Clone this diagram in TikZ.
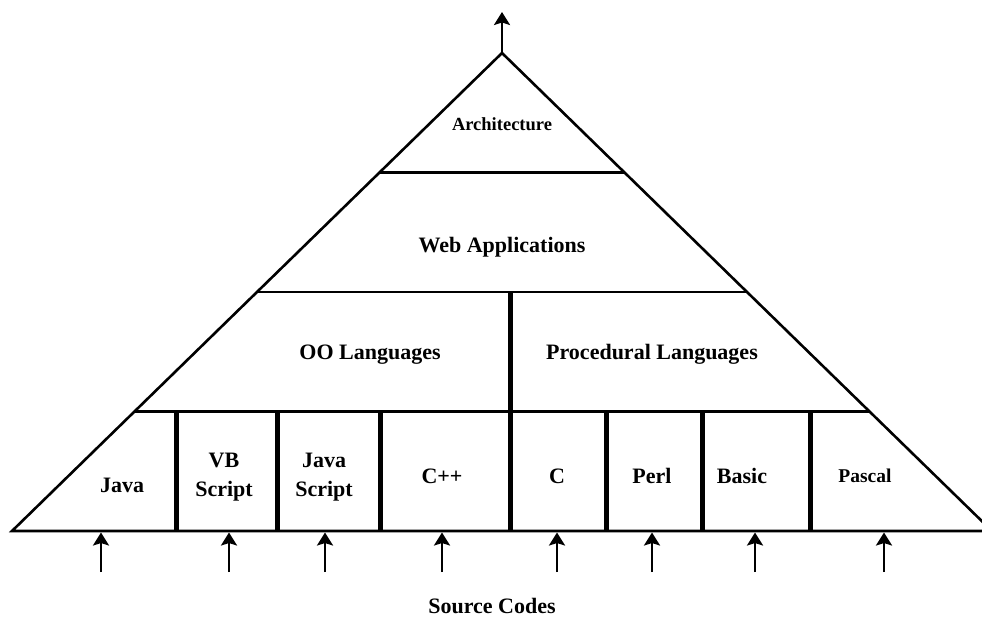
\documentclass[tikz,border=0pt]{standalone}
\usepackage{fontspec}
\setmainfont{Liberation Serif}
\usetikzlibrary{arrows.meta,calc}
\begin{document}
\begin{tikzpicture}[x=1pt,y=-1pt,
  thinline/.style={line width=2.6pt, line join=miter},
  thickline/.style={line width=5pt},
  upArrow/.style={line width=2.8pt, -{Stealth[length=13pt,width=16pt,inset=2.5pt]}},
  lbl/.style={font=\bfseries\fontsize{22}{29}\selectfont, inner sep=0pt, align=center},
  smalllbl/.style={lbl, font=\bfseries\fontsize{18.5}{22}\selectfont},
  pascallbl/.style={lbl, font=\bfseries\fontsize{19.5}{24}\selectfont}]
\useasboundingbox (0,0) rectangle (982,616);

% pyramid outline and its levels
\coordinate (apex) at (502,53);
\coordinate (bl) at (12,531);
\coordinate (br) at (992,531);
\coordinate (l1) at ($(apex)!0.25!(bl)$);
\coordinate (r1) at ($(apex)!0.25!(br)$);
\coordinate (l2) at ($(apex)!0.5!(bl)$);
\coordinate (r2) at ($(apex)!0.5!(br)$);
\coordinate (l3) at ($(apex)!0.75!(bl)$);
\coordinate (r3) at ($(apex)!0.75!(br)$);

\draw[thinline] (bl) -- (apex) -- (br) -- cycle;
\draw[thinline] (l1) -- (r1);
\draw[thinline] (l2) -- (r2);
\draw[thinline] (l3) -- (r3);

% dividers
\draw[thickline] (510,292) -- (510,531);
\foreach \x in {176,277,380,606,702,810}
  \draw[thickline] (\x,411.5) -- (\x,531);

% arrows
\coordinate (top) at (502,12);
\draw[upArrow] (apex) -- (top);
\foreach \x [count=\i] in {101,229,325,442,557,652,755,884} {
  \coordinate (src\i) at (\x,572);
  \coordinate (in\i) at (\x,532.5);
  \draw[upArrow] (src\i) -- (in\i);
}

% labels
\node[smalllbl, anchor=base] (arch) at (502,130) {Architecture};
\node[lbl, anchor=base] (web) at (502,252) {Web Applications};
\node[lbl, anchor=base] (oo) at (370,359) {OO Languages};
\node[lbl, anchor=base] (proc) at (652,359) {Procedural Languages};
\node[lbl, anchor=base] (java) at (122,492) {Java};
\node[lbl] (vbs) at (224,477.5) {VB\\Script};
\node[lbl] (js) at (324,477.5) {Java\\Script};
\node[lbl, anchor=base] (cpp) at (442,483) {C++};
\node[lbl, anchor=base] (c) at (557,483) {C};
\node[lbl, anchor=base] (perl) at (652,483) {Perl};
\node[lbl, anchor=base] (basic) at (742,483) {Basic};
\node[pascallbl, anchor=base] (pascal) at (865,482) {Pascal};
\node[lbl, anchor=base] (srccodes) at (492,613) {Source Codes};
\end{tikzpicture}
\end{document}
